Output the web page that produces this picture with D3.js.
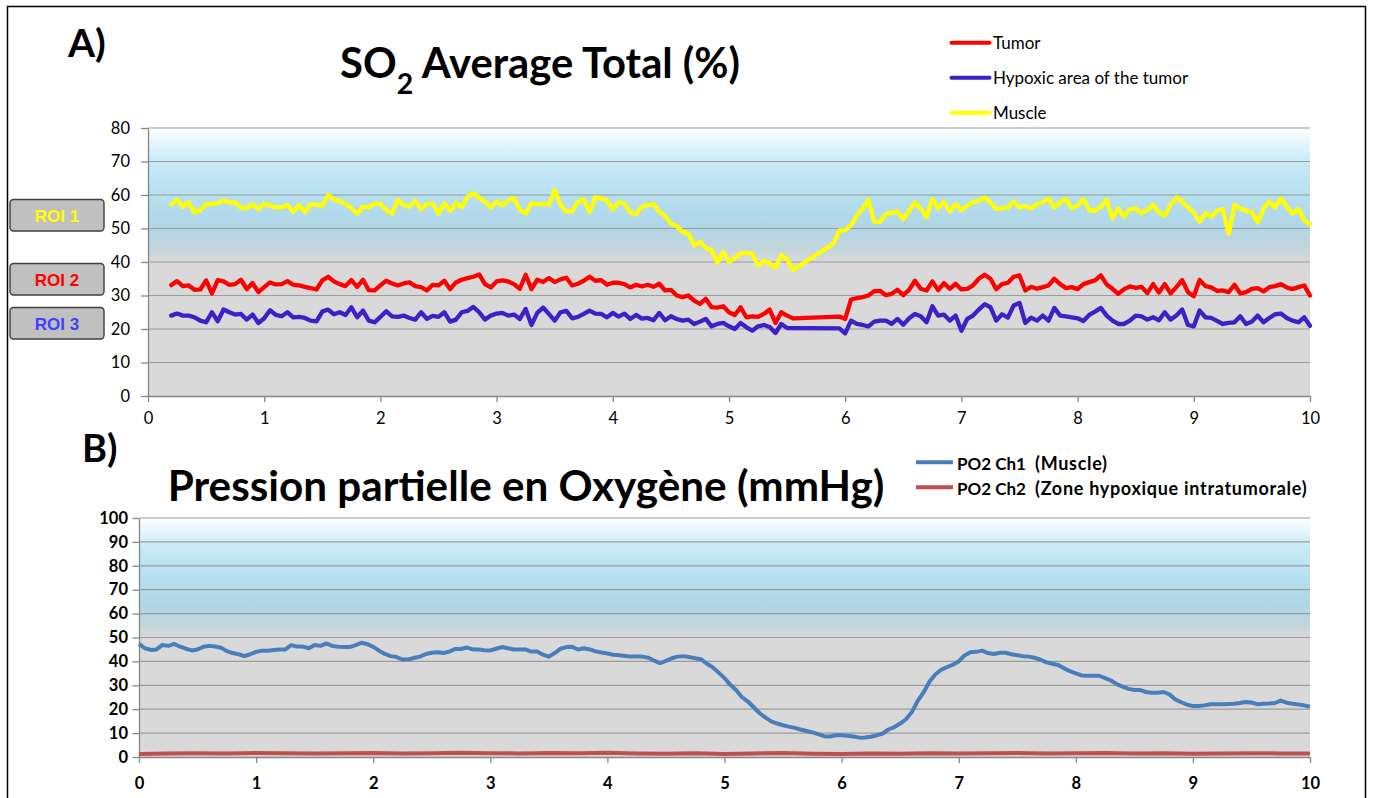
<!DOCTYPE html>
<html>
<head>
<meta charset="utf-8">
<script src="https://cdn.jsdelivr.net/npm/d3@7"></script>
<style>
  html, body { margin: 0; padding: 0; background: #ffffff; }
  svg { display: block; }
</style>
</head>
<body>
<svg id="fig" width="1375" height="798"></svg>
<script>
// ---------- Panel A : SO2 average total (%) ----------
// samples every 0.05 time unit starting at 0.20; null = no sample (line bridges the gap)
const soStart = 0.20;
const soStep = 0.05;

const tumorSO2 = [
  33.1, 34.3, 32.8, 33.0, 31.7, 31.8, 34.5, 30.6, 34.6, 34.2,
  33.2, 33.4, 34.7, 31.9, 33.7, 31.0, 32.5, 33.9, 33.3, 33.4,
  34.3, 33.2, 33.0, 32.6, 32.2, 31.8, 34.5, 35.6, 34.2, 33.4,
  32.8, 34.6, 32.6, 34.7, 31.6, 31.5, 33.0, 34.4, 33.6, 33.0,
  33.6, 33.9, 32.8, 32.5, 31.5, 33.2, 33.0, 34.4, 31.9, 33.9,
  34.7, 35.2, 35.6, 36.3, 33.4, 32.4, 34.2, 34.5, 34.2, 33.4,
  32.0, 36.2, 31.9, 34.7, 34.0, 35.2, 34.0, 34.8, 35.3, 33.0,
  33.5, 34.4, 35.6, 34.4, 34.6, 33.2, 33.8, 33.8, 33.4, 32.4,
  33.2, 32.7, 33.2, 32.6, 33.5, 31.5, 31.7, 30.0, 29.5, 30.0,
  28.5, 27.5, 29.0, 26.5, 26.4, 26.8, 25.0, 24.2, 26.5, 23.5,
  23.8, 23.6, 24.5, 25.8, 21.8, 25.0, 24.0, 23.2, null, null,
  null, null, null, null, null, 23.7, 23.0, 28.8, 29.2, 29.5,
  30.0, 31.3, 31.4, 30.1, 30.5, 31.7, 30.1, 31.7, 34.4, 32.0,
  31.5, 34.2, 31.6, 33.7, 32.0, 33.5, 31.8, 32.0, 33.0, 35.0,
  36.2, 35.0, 31.9, 33.4, 33.8, 35.6, 36.0, 31.5, 32.6, 32.0,
  32.5, 33.0, 35.0, 33.4, 32.2, 32.5, 31.9, 33.4, 34.0, 34.5,
  36.0, 33.3, 32.0, 30.5, 31.9, 32.7, 32.3, 32.6, 30.7, 33.4,
  30.9, 33.4, 30.6, 32.5, 34.6, 31.0, 29.8, 34.6, 32.8, 32.4,
  31.4, 31.5, 31.0, 33.2, 30.6, 31.0, 32.0, 32.2, 31.2, 32.5,
  32.8, 33.4, 32.4, 31.9, 32.5, 33.0, 30.0
];

const hypoxicSO2 = [
  24.0, 24.6, 24.0, 24.0, 23.5, 22.5, 22.0, 25.0, 22.3, 25.8,
  25.0, 24.3, 24.5, 22.8, 24.3, 21.8, 23.2, 25.6, 24.2, 23.8,
  25.0, 23.5, 23.6, 23.3, 22.5, 22.3, 25.2, 25.8, 24.4, 25.0,
  24.2, 26.5, 23.5, 25.5, 22.5, 22.0, 23.6, 25.3, 23.8, 23.6,
  24.0, 23.3, 22.8, 25.0, 23.0, 23.9, 23.6, 25.0, 22.2, 22.8,
  25.0, 25.4, 26.6, 25.0, 22.8, 24.0, 24.6, 24.8, 24.0, 24.3,
  23.0, 26.0, 21.2, 24.8, 26.4, 24.5, 22.5, 25.0, 25.4, 23.2,
  23.6, 24.5, 25.5, 24.6, 24.5, 23.5, 24.8, 23.7, 24.6, 23.0,
  24.2, 23.1, 23.3, 22.6, 24.8, 22.6, 23.8, 23.0, 22.5, 22.8,
  21.5, 22.2, 23.0, 20.8, 21.5, 21.8, 20.8, 20.0, 21.8, 20.5,
  19.5, 20.8, 21.2, 20.6, 18.8, 21.5, 20.3, null, null, null,
  null, null, null, null, null, 20.2, 18.7, 22.5, 21.5, 21.2,
  20.8, 22.2, 22.5, 22.5, 21.5, 23.0, 21.3, 23.2, 24.5, 23.8,
  22.0, 26.8, 24.0, 24.3, 22.5, 24.0, 19.5, 23.0, 24.0, 25.8,
  27.4, 26.5, 22.5, 24.4, 23.4, 27.0, 27.8, 21.8, 23.4, 22.5,
  24.0, 22.5, 26.3, 24.0, 23.8, 23.5, 23.2, 22.4, 24.2, 25.2,
  26.3, 24.0, 22.5, 21.5, 21.5, 22.5, 24.0, 23.8, 22.8, 23.5,
  22.6, 25.0, 22.8, 24.0, 25.8, 21.2, 20.8, 25.5, 23.5, 23.3,
  22.4, 21.5, 21.8, 22.0, 23.8, 21.5, 22.2, 24.0, 22.0, 23.3,
  24.4, 24.6, 23.3, 22.5, 22.0, 23.5, 21.0
];

const muscleSO2 = [
  57.2, 58.5, 56.5, 57.8, 54.8, 55.5, 57.3, 57.3, 57.6, 58.3,
  57.8, 57.8, 56.2, 56.0, 57.3, 55.8, 57.5, 56.8, 56.3, 56.3,
  57.0, 55.0, 57.0, 54.9, 57.3, 57.1, 56.8, 60.0, 58.6, 58.1,
  57.4, 56.0, 54.4, 56.5, 56.3, 57.4, 57.4, 55.5, 54.4, 58.5,
  57.1, 56.5, 58.3, 55.8, 57.3, 57.5, 54.5, 57.5, 55.2, 57.6,
  56.3, 59.5, 60.5, 59.2, 58.0, 56.3, 58.0, 56.9, 58.5, 59.0,
  55.5, 54.5, 57.5, 57.3, 57.3, 57.2, 61.5, 57.0, 55.1, 55.1,
  58.0, 58.6, 55.0, 59.3, 59.0, 58.3, 55.8, 57.8, 57.5, 54.8,
  54.3, 56.5, 57.0, 57.3, 55.0, 53.8, 51.5, 50.7, 49.0, 48.4,
  45.0, 46.0, 44.2, 43.5, 39.8, 43.0, 40.0, 41.2, 42.6, 42.7,
  42.5, 39.0, 40.3, 39.6, 38.3, 42.0, 40.8, 37.6, null, null,
  null, null, null, null, 45.5, 49.4, 49.5, 51.0, 53.8, 56.0,
  58.5, 52.0, 52.0, 54.3, 54.8, 55.0, 52.8, 55.3, 57.8, 56.0,
  53.4, 58.8, 56.0, 58.0, 55.0, 57.3, 55.5, 56.8, 57.8, 58.3,
  59.3, 57.8, 55.8, 56.1, 56.3, 58.0, 56.3, 56.7, 56.0, 57.3,
  57.8, 59.0, 56.3, 57.8, 58.8, 56.1, 56.8, 58.8, 55.5, 55.3,
  56.5, 58.5, 53.0, 56.0, 53.5, 55.8, 56.0, 54.6, 55.5, 57.1,
  54.8, 53.9, 57.0, 59.3, 58.0, 56.3, 54.8, 52.0, 54.6, 53.5,
  55.3, 55.8, 48.4, 57.0, 56.0, 55.3, 54.8, 51.8, 56.0, 58.0,
  56.3, 59.0, 56.5, 54.5, 55.8, 52.5, 51.3
];

const soSeriesNames = ["Tumor", "Hypoxic area of the tumor", "Muscle"];
const soYTicks = [0, 10, 20, 30, 40, 50, 60, 70, 80];
const timeTicks = [0, 1, 2, 3, 4, 5, 6, 7, 8, 9, 10];
const roiLabels = ["ROI 1", "ROI 2", "ROI 3"];

// ---------- Panel B : oxygen partial pressure (mmHg) ----------
const po2Start = 0;
const po2Step = 0.05;
const po2Muscle = [
  47.3, 45.5, 44.8, 45.0, 46.9, 46.5, 47.3, 46.2, 45.3, 44.6,
  45.0, 46.1, 46.5, 46.2, 45.7, 44.3, 43.5, 43.0, 42.2, 43.0,
  44.0, 44.5, 44.5, 44.8, 45.0, 45.0, 46.8, 46.2, 46.2, 45.5,
  46.9, 46.5, 47.5, 46.5, 46.1, 46.0, 46.0, 46.8, 47.8, 47.2,
  46.1, 44.5, 43.1, 42.2, 41.8, 40.8, 40.8, 41.5, 42.0, 43.1,
  43.6, 43.8, 43.5, 44.1, 45.2, 45.2, 45.8, 45.0, 45.0, 44.7,
  44.6, 45.3, 46.0, 45.5, 45.0, 45.0, 45.0, 44.1, 44.1, 42.8,
  42.0, 43.5, 45.3, 46.0, 46.1, 45.0, 45.5, 45.0, 44.2, 43.7,
  43.3, 42.8, 42.6, 42.3, 42.0, 42.0, 42.0, 41.5, 40.3, 39.3,
  40.2, 41.3, 42.0, 42.2, 41.8, 41.3, 40.9, 39.0, 37.5, 35.3,
  33.0, 30.2, 27.9, 25.0, 23.2, 20.8, 18.3, 16.5, 14.9, 14.0,
  13.3, 12.7, 12.2, 11.5, 10.9, 10.3, 9.6, 8.7, 8.6, 9.1,
  9.1, 8.9, 8.6, 8.1, 8.2, 8.5, 9.1, 9.8, 11.5, 12.5,
  14.0, 15.8, 18.8, 23.5, 27.0, 31.5, 34.5, 36.5, 37.6, 38.6,
  40.0, 42.5, 43.8, 44.0, 44.5, 43.5, 43.1, 43.6, 43.6, 43.0,
  42.6, 42.2, 42.0, 41.5, 40.7, 39.6, 39.0, 38.5, 37.1, 35.9,
  35.0, 34.1, 34.0, 34.0, 34.0, 33.0, 32.0, 30.5, 29.4, 28.5,
  28.0, 28.0, 27.2, 26.9, 26.9, 27.2, 26.2, 24.1, 22.9, 21.9,
  21.3, 21.3, 21.6, 22.1, 22.1, 22.1, 22.2, 22.3, 22.6, 23.0,
  22.8, 22.1, 22.3, 22.4, 22.6, 23.6, 22.7, 22.3, 22.0, 21.6,
  21.0
];

const po2TumorStep = 0.25;
const po2Tumor = [
  1.3, 1.5, 1.6, 1.5, 1.7, 1.6, 1.5, 1.6, 1.7, 1.5,
  1.6, 1.8, 1.6, 1.5, 1.7, 1.6, 1.8, 1.5, 1.4, 1.6,
  1.3, 1.5, 1.7, 1.4, 1.3, 1.5, 1.4, 1.6, 1.5, 1.6,
  1.7, 1.5, 1.6, 1.7, 1.5, 1.6, 1.4, 1.5, 1.6, 1.5,
  1.5
];

const po2SeriesNames = ["PO2 Ch1", "PO2 Ch2"];
const po2SeriesNotes = ["(Muscle)", "(Zone hypoxique intratumorale)"];
const po2YTicks = [0, 10, 20, 30, 40, 50, 60, 70, 80, 90, 100];

// ---------- drawing ----------
const SANS = "Lato, 'Open Sans', 'DejaVu Sans', sans-serif";
const ARIAL = "'Liberation Sans', Arial, sans-serif";
const svg = d3.select("#fig");

const soColors = ["#ff0000", "#3f1fc6", "#ffff00"];
const po2Colors = ["#4a7ebb", "#c0504d"];

// outer frame
svg.append("rect")
  .attr("x", 7.5).attr("y", 6.5).attr("width", 1358).attr("height", 820)
  .attr("fill", "none").attr("stroke", "#000").attr("stroke-width", 1.5);

// shared background gradient for both plot areas (white -> sky blue -> grey)
const defs = svg.append("defs");
const grad = defs.append("linearGradient")
  .attr("id", "plotBg").attr("x1", 0).attr("y1", 0).attr("x2", 0).attr("y2", 1);
[
  [0.00, "#ffffff"], [0.05, "#e6f6fc"], [0.13, "#c6e9f7"], [0.25, "#b6dff0"],
  [0.37, "#b0d6e6"], [0.45, "#c3d5dc"], [0.50, "#d9d9d9"], [1.00, "#d9d9d9"]
].forEach(([o, c]) => grad.append("stop").attr("offset", o).attr("stop-color", c));

function toPoints(values, start, step) {
  return values
    .map((v, i) => ({ t: start + i * step, v }))
    .filter(d => d.v !== null);
}

function fitWidth(sel, target) {
  const w = sel.node().getBBox().width;
  const fs = parseFloat(sel.attr("font-size"));
  sel.attr("font-size", fs * target / w);
}

function drawPanel(box, yMax, yTicks, bold, opts) {
  const x = d3.scaleLinear().domain([0, 10]).range([box.left, box.right]);
  const y = d3.scaleLinear().domain([0, yMax]).range([box.bottom, box.top]);
  const g = svg.append("g");

  g.append("rect")
    .attr("x", box.left).attr("y", box.top)
    .attr("width", box.right - box.left).attr("height", box.bottom - box.top)
    .attr("fill", "url(#plotBg)");

  g.selectAll("line.grid").data(yTicks.filter(d => d > 0)).join("line")
    .attr("class", "grid")
    .attr("x1", box.left).attr("x2", box.right)
    .attr("y1", d => y(d)).attr("y2", d => y(d))
    .attr("stroke", "#9c9c9c").attr("stroke-width", 1.2);

  const yAxis = g.append("g")
    .attr("transform", `translate(${box.left},0)`)
    .call(d3.axisLeft(y).tickValues(yTicks).tickSize(opts.yTickSize)
      .tickSizeOuter(0).tickPadding(opts.yPad).tickFormat(d3.format("d")));
  const xAxis = g.append("g")
    .attr("transform", `translate(0,${box.bottom})`)
    .call(d3.axisBottom(x).tickValues(timeTicks).tickSize(6)
      .tickSizeOuter(0).tickPadding(opts.xPad).tickFormat(d3.format("d")));

  [yAxis, xAxis].forEach(ax => {
    ax.select(".domain").attr("stroke", "#868686").attr("stroke-width", 1.3);
    ax.selectAll(".tick line").attr("stroke", "#868686").attr("stroke-width", 1.3);
    ax.selectAll(".tick text")
      .attr("font-family", SANS).attr("font-size", 16.5)
      .attr("font-weight", bold ? 700 : 400).attr("fill", "#000");
  });
  return { x, y, g };
}

// ----- Panel A -----
const boxA = { left: 148, right: 1310, top: 128, bottom: 396 };
const pA = drawPanel(boxA, 80, soYTicks, false, { yTickSize: 7, yPad: 11, xPad: 10 });

const lineA = d3.line().x(d => pA.x(d.t)).y(d => pA.y(d.v)).curve(d3.curveLinear);
[muscleSO2, tumorSO2, hypoxicSO2].forEach((vals, k) => {
  const col = [soColors[2], soColors[0], soColors[1]][k];
  pA.g.append("path")
    .datum(toPoints(vals, soStart, soStep))
    .attr("d", lineA)
    .attr("fill", "none").attr("stroke", col)
    .attr("stroke-width", 4.3).attr("stroke-linejoin", "round").attr("stroke-linecap", "round");
});

// panel label and title
svg.append("text").attr("x", 68).attr("y", 57)
  .attr("font-family", SANS).attr("font-weight", 700).attr("font-size", 39)
  .attr("fill", "#000").text("A)");

const titleA = svg.append("text").attr("x", 540).attr("y", 78)
  .attr("text-anchor", "middle").attr("font-family", SANS)
  .attr("font-weight", 700).attr("font-size", 40).attr("fill", "#000");
titleA.append("tspan").text("SO");
titleA.append("tspan").attr("font-size", "0.68em").attr("dy", "0.55em").text("2");
titleA.append("tspan").attr("dy", "-0.374em").text(" Average Total (%)");
fitWidth(titleA, 400);

// legend A
const legA = svg.append("g");
soSeriesNames.forEach((name, i) => {
  const yy = 42.7 + i * 35;
  legA.append("line").attr("x1", 951.5).attr("x2", 989.5).attr("y1", yy).attr("y2", yy)
    .attr("stroke", soColors[i]).attr("stroke-width", 4).attr("stroke-linecap", "round");
  legA.append("text").attr("x", 993).attr("y", yy + 6)
    .attr("font-family", SANS).attr("font-size", 17).attr("fill", "#000").text(name);
});

// ROI tags on the left
const roiY = [199.5, 263.5, 307.5];
roiLabels.forEach((lab, i) => {
  svg.append("rect").attr("x", 10).attr("y", roiY[i]).attr("width", 94).attr("height", 31.5)
    .attr("rx", 3.5).attr("fill", "#c0c0c0").attr("stroke", "#3f3f3f").attr("stroke-width", 1.4);
  svg.append("text").attr("x", 57).attr("y", roiY[i] + 22)
    .attr("text-anchor", "middle").attr("font-family", ARIAL).attr("font-weight", 700)
    .attr("font-size", 17).attr("fill", ["#ffff00", "#ff0000", "#4040ff"][i]).text(lab);
});

// ----- Panel B -----
const boxB = { left: 139, right: 1310, top: 518, bottom: 757 };
const pB = drawPanel(boxB, 100, po2YTicks, true, { yTickSize: 6.5, yPad: 4.5, xPad: 14 });

const lineB = d3.line().x(d => pB.x(d.t)).y(d => pB.y(d.v));
pB.g.append("path")
  .datum(toPoints(po2Tumor, 0, po2TumorStep))
  .attr("d", lineB).attr("fill", "none").attr("stroke", po2Colors[1])
  .attr("stroke-width", 4).attr("stroke-linejoin", "round");
pB.g.append("path")
  .datum(toPoints(po2Muscle, po2Start, po2Step))
  .attr("d", lineB).attr("fill", "none").attr("stroke", po2Colors[0])
  .attr("stroke-width", 4).attr("stroke-linejoin", "round");

svg.append("text").attr("x", 82).attr("y", 462)
  .attr("font-family", SANS).attr("font-weight", 700).attr("font-size", 38)
  .attr("fill", "#000").text("B)");

const titleB = svg.append("text").attr("x", 526).attr("y", 501)
  .attr("text-anchor", "middle").attr("font-family", SANS)
  .attr("font-weight", 700).attr("font-size", 40).attr("fill", "#000")
  .text("Pression partielle en Oxygène (mmHg)");
fitWidth(titleB, 717);

// legend B
const legB = svg.append("g");
po2SeriesNames.forEach((name, i) => {
  const yy = 462.3 + i * 25;
  legB.append("line").attr("x1", 916).attr("x2", 953).attr("y1", yy).attr("y2", yy)
    .attr("stroke", po2Colors[i]).attr("stroke-width", 4);
  legB.append("text").attr("x", 957).attr("y", yy + 8)
    .attr("font-family", SANS).attr("font-weight", 700).attr("font-size", 17)
    .attr("fill", "#000").text(name);
  legB.append("text").attr("x", 1035).attr("y", yy + 8)
    .attr("font-family", SANS).attr("font-weight", 700).attr("font-size", 18)
    .attr("letter-spacing", 0.7)
    .attr("fill", "#000").text(po2SeriesNotes[i]);
});
</script>
</body>
</html>
